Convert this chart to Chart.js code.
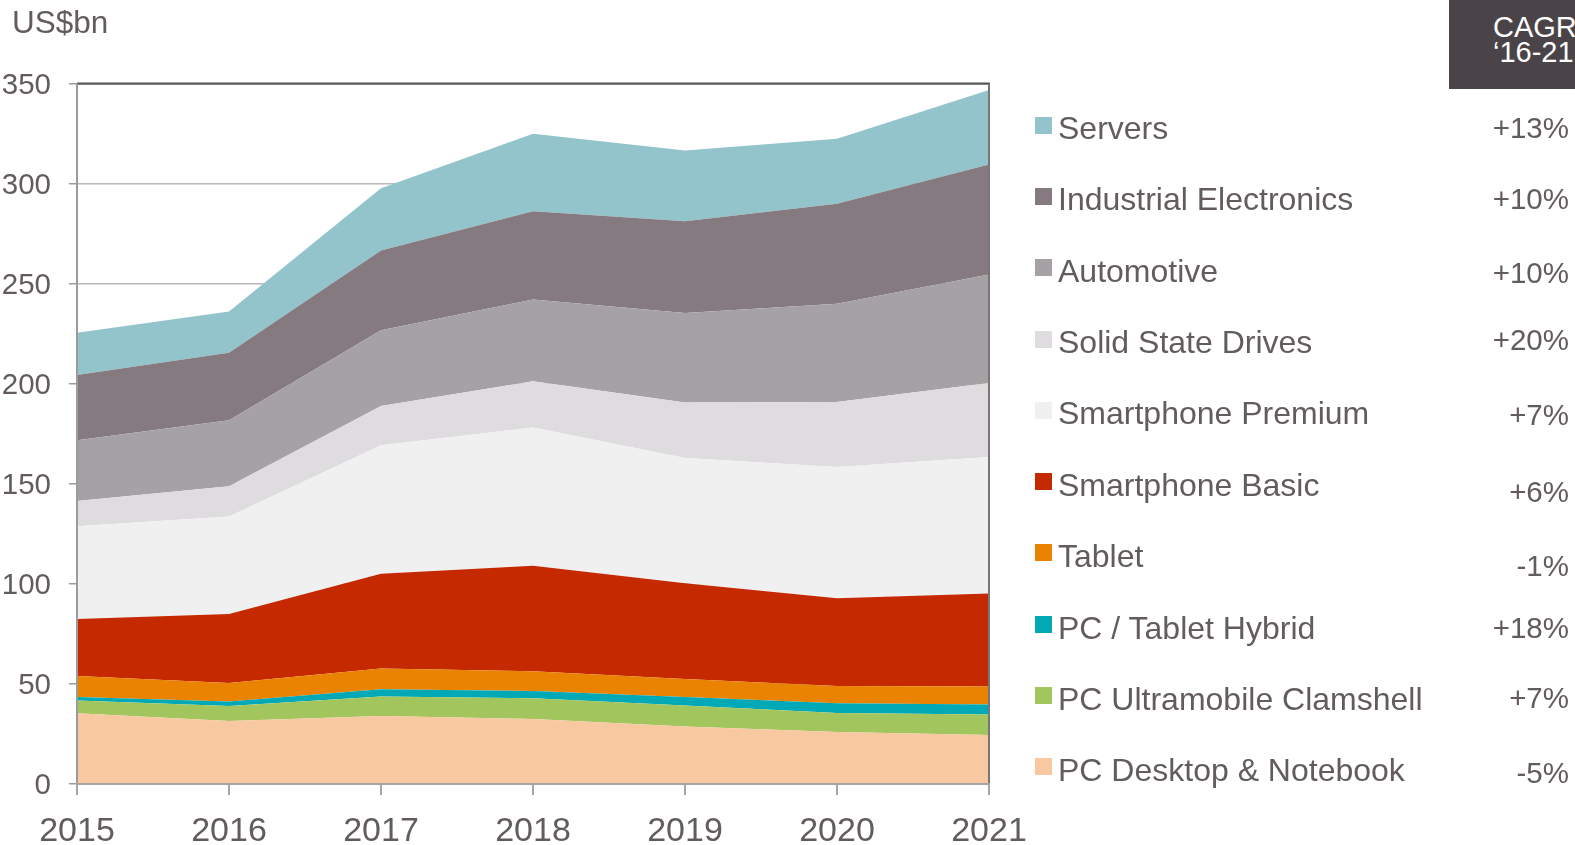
<!DOCTYPE html>
<html>
<head>
<meta charset="utf-8">
<script src="https://cdn.jsdelivr.net/npm/chart.js@4.4.0/dist/chart.umd.min.js"></script>
<style>
  html, body { margin: 0; padding: 0; background: #fff; }
  body { width: 1575px; height: 845px; position: relative; overflow: hidden;
         font-family: "Liberation Sans", Arial, sans-serif; color: #625c5e; }
  #wrap { position: absolute; left: 0; top: 0; width: 1575px; height: 845px; }
  #unit { position: absolute; left: 12px; top: 4px; font-size: 31.5px; }
  #cagrHead { position: absolute; left: 1449px; top: 0; width: 126px; height: 89px;
              background: #4a4448; color: #fff; font-size: 29px; line-height: 25px;
              box-sizing: border-box; padding: 15px 0 0 44px; white-space: nowrap; overflow: hidden; }
  .lg-box { position: absolute; width: 17px; height: 17px; }
  .lg-text { position: absolute; font-size: 32px; line-height: 36px; white-space: nowrap; }
  .lg-cagr { position: absolute; font-size: 29.5px; line-height: 36px; text-align: right; width: 120px; }
</style>
</head>
<body>
<div id="wrap"><canvas id="areaChart"></canvas></div>
<div id="unit">US$bn</div>
<div id="cagrHead">CAGR<br>‘16-21</div>
<div id="legend"></div>

<script>
// ============================
// DATA
// ============================
const years = ["2015", "2016", "2017", "2018", "2019", "2020", "2021"];

const pcDesktop    = [35.3, 31.5, 34.0, 32.5, 28.7, 26.0, 24.5];
const pcClamshell  = [6.4, 7.5, 9.7, 10.3, 10.5, 9.5, 10.2];
const pcHybrid     = [1.8, 2.2, 3.6, 3.7, 4.3, 4.8, 5.0];
const tablet       = [10.5, 9.3, 10.4, 9.8, 9.0, 8.7, 9.0];
const smartBasic   = [28.5, 34.5, 47.3, 52.7, 47.8, 43.8, 46.5];
const smartPremium = [46.3, 48.6, 64.2, 69.1, 62.6, 65.6, 68.2];
const ssd          = [12.6, 15.2, 19.7, 23.1, 27.7, 32.5, 37.0];
const automotive   = [30.3, 32.9, 37.8, 40.9, 44.7, 49.1, 54.2];
const industrial   = [32.6, 33.8, 39.9, 44.1, 45.9, 49.9, 54.9];
const servers      = [21.2, 20.6, 31.0, 38.7, 35.3, 32.5, 37.3];

// legend order, top to bottom
const seriesNames = [
  "Servers", "Industrial Electronics", "Automotive", "Solid State Drives",
  "Smartphone Premium", "Smartphone Basic", "Tablet", "PC / Tablet Hybrid",
  "PC Ultramobile Clamshell", "PC Desktop & Notebook"
];
const cagrLabels = ["+13%", "+10%", "+10%", "+20%", "+7%", "+6%", "-1%", "+18%", "+7%", "-5%"];
const yTicks = [0, 50, 100, 150, 200, 250, 300, 350];

// ============================
// STYLE
// ============================
const TEXT = "#625c5e";
const FONT = '"Liberation Sans", Arial, sans-serif';
const colors = [
  "#94c4cb", "#847a7f", "#a6a1a4", "#dedcdf", "#f0f0f0",
  "#c42900", "#e98300", "#00a9b5", "#a3c55d", "#f8c8a0"
];
const seriesData = [
  servers, industrial, automotive, ssd, smartPremium,
  smartBasic, tablet, pcHybrid, pcClamshell, pcDesktop
];

// stack from the bottom (desktop) up
const datasets = [];
for (let i = seriesNames.length - 1; i >= 0; i--) {
  datasets.push({
    label: seriesNames[i],
    data: seriesData[i],
    backgroundColor: colors[i],
    borderWidth: 0,
    pointRadius: 0,
    tension: 0,
    fill: datasets.length === 0 ? "origin" : "-1",
  });
}

// frame drawn over the areas
const framePlugin = {
  id: "frame",
  afterDatasetsDraw(chart) {
    const { ctx, chartArea: a } = chart;
    ctx.save();
    ctx.lineWidth = 2;
    ctx.strokeStyle = "#5a5558";
    ctx.beginPath(); ctx.moveTo(a.left, a.top); ctx.lineTo(a.right + 1, a.top); ctx.stroke();
    ctx.strokeStyle = "#777";
    ctx.beginPath(); ctx.moveTo(a.right, a.top); ctx.lineTo(a.right, a.bottom); ctx.stroke();
    ctx.strokeStyle = "#9b9b9b";
    ctx.beginPath(); ctx.moveTo(a.left, a.top); ctx.lineTo(a.left, a.bottom + 1); ctx.stroke();
    ctx.strokeStyle = "#a6a6a6";
    ctx.beginPath(); ctx.moveTo(a.left - 1, a.bottom); ctx.lineTo(a.right + 1, a.bottom); ctx.stroke();
    ctx.restore();
  },
};

new Chart(document.getElementById("areaChart"), {
  type: "line",
  data: { labels: years, datasets: datasets },
  options: {
    responsive: true,
    maintainAspectRatio: false,
    animation: false,
    layout: { padding: { top: 83.5, right: 586, left: 0, bottom: 0 } },
    plugins: { legend: { display: false }, tooltip: { enabled: false } },
    scales: {
      x: {
        offset: false,
        afterFit: (s) => { s.height = 61; },
        border: { display: false },
        grid: { drawOnChartArea: false, drawTicks: true, tickLength: 11, tickColor: "#a6a6a6", lineWidth: 2 },
        ticks: { color: TEXT, font: { family: FONT, size: 34 }, padding: 16, maxRotation: 0 },
      },
      y: {
        stacked: true,
        min: 0,
        max: 350,
        afterFit: (s) => { s.width = 77; },
        afterBuildTicks: (s) => { s.ticks = yTicks.map((v) => ({ value: v })); },
        border: { display: false },
        grid: {
          color: (c) => (c.tick && c.tick.value === 350 ? "#5a5558" : "#b8b8b8"),
          lineWidth: 1.5,
          tickLength: 8,
          tickColor: "#9b9b9b",
        },
        ticks: { color: TEXT, font: { family: FONT, size: 29.5 }, padding: 18, labelOffset: 2 },
      },
    },
  },
  plugins: [framePlugin],
});

// ============================
// LEGEND + CAGR COLUMN
// ============================
const rowY = [128.1, 199.4, 270.7, 342, 413.3, 484.6, 555.9, 627.8, 698.6, 769.9];
const cagrY = [128.1, 199.4, 272.7, 340, 415.3, 491.7, 566, 627.8, 697.6, 772.9];
const legend = document.getElementById("legend");
seriesNames.forEach((name, i) => {
  const box = document.createElement("div");
  box.className = "lg-box";
  box.style.left = "1035px";
  box.style.top = (rowY[i] - 11.5) + "px";
  box.style.background = colors[i];
  legend.appendChild(box);

  const txt = document.createElement("div");
  txt.className = "lg-text";
  txt.style.left = "1058px";
  txt.style.top = (rowY[i] - 18) + "px";
  txt.textContent = name;
  legend.appendChild(txt);

  const cg = document.createElement("div");
  cg.className = "lg-cagr";
  cg.style.left = (1569 - 120) + "px";
  cg.style.top = (cagrY[i] - 18) + "px";
  cg.textContent = cagrLabels[i];
  legend.appendChild(cg);
});
</script>
</body>
</html>
